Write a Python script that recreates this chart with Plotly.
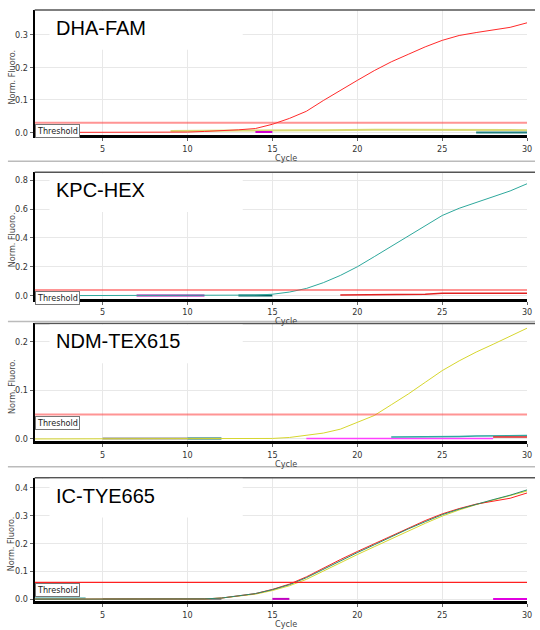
import plotly.graph_objects as go

W, H = 540, 630

# ---------------- data ----------------
cycles = list(range(1, 31))
x_ticks = [5, 10, 15, 20, 25, 30]

panel_titles = ["DHA-FAM", "KPC-HEX", "NDM-TEX615", "IC-TYE665"]
thresholds = [0.03, 0.04, 0.05, 0.06]

dha_fam = [0.0, 0.0, 0.0, 0.0, 0.0, 0.0, 0.0, 0.0, 0.0, 0.001, 0.003, 0.005, 0.008, 0.012, 0.025,
           0.043, 0.065, 0.098, 0.130, 0.160, 0.190, 0.217, 0.240, 0.263, 0.283, 0.298, 0.307,
           0.315, 0.323, 0.337]
p1_yellow_base = [None] * 8 + [0.004, 0.005, 0.006, 0.006, 0.006, 0.006, 0.007, 0.007, 0.007, 0.007,
                               0.008, 0.008, 0.008, 0.008, 0.008, 0.008, 0.008, 0.008, 0.007, 0.007,
                               0.007, 0.007]
p1_magenta_base = [None] * 13 + [0.001, 0.001] + [None] * 15
p1_teal_base = [None] * 26 + [0.0, 0.0, 0.0, 0.0]

kpc_hex = [0.0, 0.0, 0.0, 0.0, 0.0, 0.0, 0.0, 0.0, 0.0, 0.0, 0.0, 0.0, 0.001, 0.004, 0.010,
           0.025, 0.050, 0.090, 0.140, 0.200, 0.270, 0.340, 0.410, 0.480, 0.555, 0.605, 0.645,
           0.685, 0.725, 0.775]
p2_red_base = [None] * 18 + [0.004, 0.005, 0.009, 0.009, 0.009, 0.010, 0.016, 0.016, 0.016,
                             0.016, 0.016, 0.016]
p2_purple_base = [None] * 6 + [0.001, 0.001, 0.001, 0.001, 0.001] + [None] * 19
p2_dteal_base = [None] * 12 + [0.001, 0.001, 0.002] + [None] * 15

ndm_tex615 = [0.0, 0.0, 0.0, 0.0, 0.0, 0.0, 0.0, 0.0, 0.0, 0.0, 0.0, 0.0, 0.0, 0.0, 0.001,
              0.003, 0.007, 0.012, 0.020, 0.034, 0.048, 0.070, 0.092, 0.116, 0.140, 0.160,
              0.178, 0.194, 0.210, 0.227]
p3_gray_base = [None] * 4 + [0.001, 0.001, 0.001, 0.001, 0.001, 0.001] + [None] * 20
p3_dteal_base = [None] * 9 + [0.001, 0.001, 0.001] + [None] * 18
p3_pink_base = [None] * 16 + [0.001] * 12 + [None] * 2
p3_teal_base = [None] * 21 + [0.004, 0.004, 0.004, 0.004, 0.005, 0.006, 0.006, 0.007, 0.007]
p3_red_base = [None] * 27 + [0.004, 0.004, 0.004]

ic_green = [0.0, 0.0, 0.0, 0.0, 0.0, 0.0, 0.0, 0.0, 0.0, 0.0, 0.001, 0.004, 0.011, 0.020, 0.034,
            0.052, 0.077, 0.108, 0.138, 0.167, 0.195, 0.224, 0.252, 0.278, 0.303, 0.323, 0.341,
            0.357, 0.373, 0.392]
ic_red = [0.0, 0.0, 0.0, 0.0, 0.0, 0.0, 0.0, 0.0, 0.0, 0.0, 0.001, 0.004, 0.011, 0.020, 0.035,
          0.054, 0.080, 0.112, 0.142, 0.171, 0.199, 0.228, 0.256, 0.282, 0.306, 0.325, 0.341,
          0.352, 0.362, 0.381]
ic_yellow = [0.0, 0.0, 0.0, 0.0, 0.0, 0.0, 0.0, 0.0, 0.0, 0.0, 0.001, 0.004, 0.010, 0.018, 0.031,
             0.048, 0.071, 0.101, 0.131, 0.160, 0.188, 0.217, 0.245, 0.272, 0.298, 0.320, 0.339,
             0.356, 0.371, 0.388]
p4_cyan_base = [0.003, 0.003, 0.003, 0.003] + [None] * 26
p4_gray_base = [None] * 4 + [0.001] * 8 + [None] * 18
p4_magenta_base = [None] * 27 + [0.001, 0.001, 0.001]
p4_magenta_base2 = [None] * 14 + [0.001, 0.001] + [None] * 14

# ---------------- layout geometry (pixels) ----------------
panel_px = [(10, 136), (173, 300), (325, 443), (480, 604)]
y_ranges = [(-0.009, 0.3765), (-0.02, 0.855), (-0.004, 0.2367), (-0.007, 0.4357)]
y_dticks = [0.1, 0.2, 0.1, 0.1]
x_left, x_right = 35, 532
separators = [162, 323, 469]

TICKF = "Liberation Sans Narrow, DejaVu Sans Condensed, Arial Narrow, sans-serif"
TITLEF = "Liberation Sans, Arial, sans-serif"


def py(p):
    return 1 - p / H


def px(p):
    return p / W


fig = go.Figure()

series = [
    [(p1_yellow_base, "#d8d870", 2), (p1_magenta_base, "#d000d0", 2), (p1_teal_base, "#208080", 2),
     (dha_fam, "#ff2a2a", 1)],
    [(p2_purple_base, "#b000b0", 2), (p2_dteal_base, "#006060", 2), (p2_red_base, "#e02020", 1.5),
     (kpc_hex, "#2ea89c", 1)],
    [(p3_gray_base, "#888888", 2), (p3_dteal_base, "#006060", 2), (p3_pink_base, "#ff40ff", 1.5),
     (p3_teal_base, "#30a8a0", 1.5), (p3_red_base, "#e02020", 1.5), (ndm_tex615, "#d6d62e", 1)],
    [(p4_cyan_base, "#70c0c0", 2), (p4_gray_base, "#888888", 2), (p4_magenta_base, "#e000e0", 2),
     (p4_magenta_base2, "#c000c0", 2), (ic_yellow, "#d8d830", 1), (ic_red, "#ff2020", 1),
     (ic_green, "#2a8a6a", 1)],
]

for i in range(4):
    n = "" if i == 0 else str(i + 1)
    xa, ya = "x" + n, "y" + n
    for vals, col, w in series[i]:
        fig.add_trace(go.Scatter(x=cycles, y=vals, mode="lines", xaxis=xa, yaxis=ya,
                                 line=dict(color=col, width=w), connectgaps=False,
                                 showlegend=False, hoverinfo="skip"))
    # threshold
    thr_col = "rgba(255,60,60,0.55)" if i < 3 else "#ff2020"
    fig.add_trace(go.Scatter(x=[cycles[0], cycles[-1]], y=[thresholds[i]] * 2, mode="lines",
                             xaxis=xa, yaxis=ya, line=dict(color=thr_col, width=2 if i < 3 else 1.2),
                             showlegend=False, hoverinfo="skip"))

    top, bot = panel_px[i]
    fig.layout["xaxis" + n] = dict(
        domain=[px(x_left), px(x_right)], range=[1, 30], anchor=ya,
        tickvals=x_ticks, ticks="outside", ticklen=3, tickcolor="#666",
        tickfont=dict(family=TICKF, size=9, color="#333"),
        showgrid=True, gridcolor="#e8e8e8", gridwidth=1, zeroline=False,
        showline=True, linecolor="black", linewidth=3, layer="below traces", fixedrange=True)
    fig.layout["yaxis" + n] = dict(
        domain=[py(bot), py(top)], range=list(y_ranges[i]), anchor=xa,
        dtick=y_dticks[i], tick0=0, tickformat=".1f", ticks="outside", ticklen=3, tickcolor="#666",
        tickfont=dict(family=TICKF, size=9, color="#333"),
        showgrid=True, gridcolor="#e8e8e8", gridwidth=1, zeroline=False,
        showline=True, linecolor="black", linewidth=2, layer="below traces", fixedrange=True)

    # top border
    fig.add_shape(type="line", xref="paper", yref="paper", x0=px(x_left), x1=1,
                  y0=py(top), y1=py(top), line=dict(color="#555", width=1.5))
    # white box behind title
    fig.add_shape(type="rect", xref="paper", yref="paper", x0=px(50), x1=px(245),
                  y0=py(top + 40), y1=py(top + 1), fillcolor="white", line=dict(width=0),
                  layer="above")
    fig.add_annotation(text=panel_titles[i], xref="paper", yref="paper", x=px(55), y=py(top + 18),
                       xanchor="left", yanchor="middle", showarrow=False,
                       font=dict(family=TITLEF, size=20, color="black"))
    # threshold label
    fig.add_annotation(text="Threshold", xref=xa, yref=ya, x=1, y=thresholds[i],
                       xanchor="left", yanchor="top", yshift=-1, showarrow=False,
                       font=dict(family=TICKF, size=9, color="#222"), bgcolor="white",
                       bordercolor="#777", borderwidth=1, borderpad=1)
    # axis titles
    fig.add_annotation(text="Cycle", xref="paper", yref="paper", x=px((x_left + x_right) / 2 + 5),
                       y=py(bot + 23), xanchor="center", yanchor="middle", showarrow=False,
                       font=dict(family=TICKF, size=9, color="#444"))
    fig.add_annotation(text="Norm. Fluoro.", xref="paper", yref="paper", x=px(12),
                       y=py((top + bot) / 2 + 4), xanchor="center", yanchor="middle",
                       textangle=-90, showarrow=False,
                       font=dict(family=TICKF, size=9, color="#444"))

for s in separators:
    fig.add_shape(type="line", xref="paper", yref="paper", x0=px(8), x1=1, y0=py(s), y1=py(s),
                  line=dict(color="#bbbbbb", width=1.5))

fig.update_layout(width=W, height=H, margin=dict(l=0, r=0, t=0, b=0),
                  paper_bgcolor="white", plot_bgcolor="white", showlegend=False)

fig.write_html("out.html", config={"displayModeBar": False},
               post_script="document.body.style.margin='0';document.body.style.padding='0';")
